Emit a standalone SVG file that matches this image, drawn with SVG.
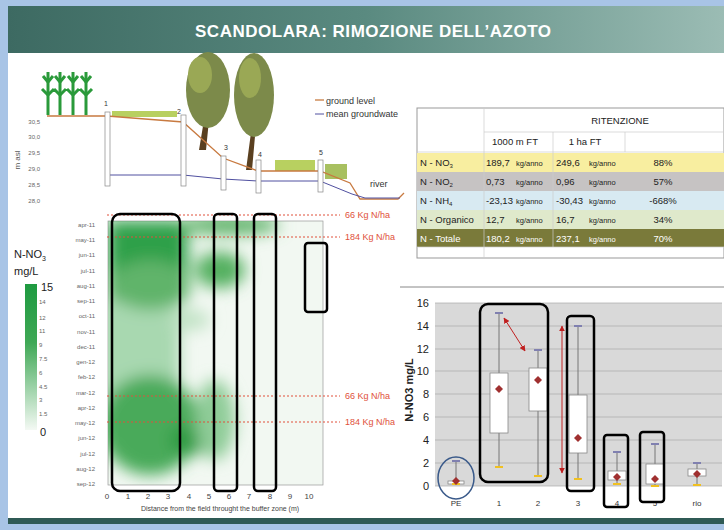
<svg xmlns="http://www.w3.org/2000/svg" width="724" height="530" viewBox="0 0 724 530">
<defs>
<style>
.s{font-family:"Liberation Sans",Arial,sans-serif}
.ax{font-family:"Liberation Sans",Arial,sans-serif;font-size:6px;fill:#666}
.rd{stroke:#e0503a;stroke-width:1;stroke-dasharray:2,2}
.rl{font-family:"Liberation Sans",Arial,sans-serif;font-size:9px;fill:#e0503a}
.bx{fill:none;stroke:#000;stroke-width:2.5}
.tb{font-family:"Liberation Sans Narrow","Liberation Sans",sans-serif;font-size:9.5px;fill:#222}
.tk{font-family:"Liberation Sans Narrow","Liberation Sans",sans-serif;font-size:7.5px;fill:#222}
.wh{stroke:#777;stroke-width:1}
.bb{fill:#fff;stroke:#888;stroke-width:0.8}
.mx{fill:#8080b0}
.mn{fill:#f0c020}
.mean{fill:#a03030}
</style>
<linearGradient id="hd" x1="0" x2="1"><stop offset="0" stop-color="#3d6a62"/><stop offset="0.5" stop-color="#5a8a80"/><stop offset="1" stop-color="#9bbcb4"/></linearGradient>
<linearGradient id="cb" x1="0" y1="0" x2="0" y2="1"><stop offset="0" stop-color="#1e9a40"/><stop offset="0.4" stop-color="#3fa855"/><stop offset="1" stop-color="#f4f9f4"/></linearGradient>
<filter id="bl" x="-50%" y="-50%" width="200%" height="200%"><feGaussianBlur stdDeviation="8"/></filter>
<clipPath id="hm"><rect x="108" y="221" width="215" height="264"/></clipPath>
<marker id="ar" viewBox="0 0 10 10" refX="9" refY="5" markerWidth="6" markerHeight="6" orient="auto-start-reverse"><path d="M0,0 L10,5 L0,10 z" fill="#c02020"/></marker>
</defs>
<rect width="724" height="530" fill="#a8c4e6"/>
<rect x="8" y="6" width="716" height="518" fill="#fff"/>
<g id="header"><rect x="8" y="6" width="716" height="47" fill="url(#hd)"/>
<text x="373" y="37" text-anchor="middle" class="s" font-size="17" font-weight="bold" fill="#fff" textLength="356">SCANDOLARA: RIMOZIONE DELL’AZOTO</text></g>
<rect x="8" y="518" width="716" height="6" fill="#2f5a55"/>

<g id="profile">
<g stroke="#2a9a3a" stroke-width="3" fill="none">
<path d="M48,115 V72 M60,115 V72 M73,115 V72 M86,115 V72"/>
<path d="M48,95 l-6,-6 M48,95 l6,-6 M60,95 l-6,-6 M60,95 l6,-6 M73,95 l-6,-6 M73,95 l6,-6 M86,95 l-6,-6 M86,95 l6,-6 M48,82 l-5,-6 M48,82 l5,-6 M60,82 l-5,-6 M60,82 l5,-6 M73,82 l-5,-6 M73,82 l5,-6 M86,82 l-5,-6 M86,82 l5,-6"/>
</g>
<path d="M204,120 L199,150 L206,150 L209,120 M252,125 L246,170 L252,170 L256,125" fill="#5a4020"/>
<g fill="#7c8a4a"><ellipse cx="208" cy="90" rx="22" ry="38"/><ellipse cx="254" cy="95" rx="20" ry="42"/></g>
<g fill="#9aa855"><ellipse cx="200" cy="75" rx="12" ry="18"/><ellipse cx="250" cy="78" rx="11" ry="20"/></g>
<rect x="112" y="111" width="65" height="6" fill="#b8d060"/>
<rect x="275" y="160" width="40" height="11" fill="#b8d060"/>
<rect x="325" y="164" width="22" height="15" fill="#a8c060"/>
<g class="ax" text-anchor="end"><text x="40" y="124">30,5</text><text x="40" y="139">30,0</text><text x="40" y="155">29,5</text><text x="40" y="171">29,0</text><text x="40" y="187">28,5</text><text x="40" y="203">28,0</text></g>
<text transform="translate(20,160) rotate(-90)" text-anchor="middle" class="s" font-size="8" fill="#555">m asl</text>
<path d="M47,116 L107,116 L183,122 L223,158 L258,171 L320,171 L350,183 L360,199 L398,199 L404,193" fill="none" stroke="#c87a40" stroke-width="1.3"/>
<path d="M107,175 L183,175 L223,179 L258,181 L320,181 L352,194 L365,198 L400,198" fill="none" stroke="#5050a0" stroke-width="1"/>
<g fill="#fff" stroke="#888" stroke-width="0.7"><rect x="105" y="112" width="5" height="74"/><rect x="181" y="115" width="5" height="71"/><rect x="221" y="156" width="5" height="34"/><rect x="256" y="160" width="5" height="33"/><rect x="318" y="160" width="5" height="32"/></g>
<g class="s" font-size="7" fill="#333"><text x="104" y="106">1</text><text x="177" y="114">2</text><text x="224" y="150">3</text><text x="258" y="157">4</text><text x="319" y="155">5</text><text x="370" y="187" font-size="9">river</text></g>
<path d="M315,100 h9" stroke="#c87a40" stroke-width="1.3"/><path d="M315,114 h9" stroke="#5050a0"/>
<text x="326" y="104" class="s" font-size="9" fill="#333">ground level</text>
<text x="326" y="117" class="s" font-size="9" fill="#333">mean groundwate</text>
</g>

<g id="heatmap">
<rect x="108" y="221" width="215" height="264" fill="#f2f8f2" stroke="#999" stroke-width="0.7"/>
<g clip-path="url(#hm)" filter="url(#bl)">
<rect x="108" y="221" width="80" height="80" fill="#2fa048"/>
<rect x="100" y="300" width="80" height="150" fill="#a8d8b0"/>
<ellipse cx="150" cy="425" rx="50" ry="50" fill="#4aaa5a"/>
<ellipse cx="190" cy="440" rx="20" ry="15" fill="#2a9a40"/>
<ellipse cx="220" cy="270" rx="25" ry="18" fill="#55b060"/>
<ellipse cx="150" cy="285" rx="40" ry="25" fill="#60b46a"/>
<ellipse cx="215" cy="420" rx="20" ry="40" fill="#8fcc98"/>
<ellipse cx="230" cy="225" rx="50" ry="10" fill="#60b46a"/>
<ellipse cx="190" cy="320" rx="20" ry="10" fill="#c0e2c4"/>
</g>
<g class="ax" text-anchor="end" font-size="6">
<text x="95" y="227">apr-11</text><text x="95" y="242">may-11</text><text x="95" y="257">jun-11</text><text x="95" y="273">jul-11</text><text x="95" y="288">aug-11</text><text x="95" y="303">sep-11</text><text x="95" y="318">oct-11</text><text x="95" y="334">nov-11</text><text x="95" y="349">dec-11</text><text x="95" y="364">gen-12</text><text x="95" y="379">feb-12</text><text x="95" y="395">mar-12</text><text x="95" y="410">apr-12</text><text x="95" y="425">may-12</text><text x="95" y="440">jun-12</text><text x="95" y="456">jul-12</text><text x="95" y="471">aug-12</text><text x="95" y="486">sep-12</text>
</g>
<g class="s" font-size="8" fill="#444" text-anchor="middle"><text x="107" y="499">0</text><text x="128" y="499">1</text><text x="148" y="499">2</text><text x="168" y="499">3</text><text x="189" y="499">4</text><text x="209" y="499">5</text><text x="229" y="499">6</text><text x="249" y="499">7</text><text x="270" y="499">8</text><text x="290" y="499">9</text><text x="309" y="499">10</text></g>
<text x="220" y="511" text-anchor="middle" class="s" font-size="7" fill="#444">Distance from the field throught the buffer zone (m)</text>
<line x1="107" y1="215" x2="340" y2="215" class="rd"/><line x1="107" y1="237" x2="340" y2="237" class="rd"/><line x1="107" y1="396" x2="340" y2="396" class="rd"/><line x1="107" y1="422" x2="340" y2="422" class="rd"/>
<text x="345" y="218" class="rl">66 Kg N/ha</text><text x="345" y="240" class="rl">184 Kg N/ha</text><text x="345" y="399" class="rl">66 Kg N/ha</text><text x="345" y="425" class="rl">184 Kg N/ha</text>
<rect x="112" y="214" width="68" height="277" rx="8" class="bx"/><rect x="214" y="214" width="23" height="277" rx="4" class="bx"/><rect x="254" y="214" width="22" height="277" rx="4" class="bx"/><rect x="305" y="243" width="22" height="69" rx="3" class="bx"/>
<text x="14" y="258" class="s" font-size="11" fill="#222">N-NO<tspan font-size="7" dy="3">3</tspan></text>
<text x="14" y="275" class="s" font-size="11" fill="#222">mg/L</text>
<rect x="25" y="284" width="12" height="146" fill="url(#cb)"/>
<text x="41" y="291" class="s" font-size="11" fill="#222">15</text>
<g class="ax" font-size="5"><text x="39" y="304">14</text><text x="39" y="320">12</text><text x="39" y="333">11</text><text x="39" y="347">9</text><text x="39" y="361">7.5</text><text x="39" y="375">6</text><text x="39" y="389">4.5</text><text x="39" y="402">3</text><text x="39" y="416">1.5</text></g>
<text x="40" y="436" class="s" font-size="11" fill="#222">0</text>
</g>

<g id="table">
<rect x="417" y="108" width="307" height="150" fill="#fff" stroke="#999"/>
<rect x="417" y="153" width="307" height="19" fill="#f8eea0"/>
<rect x="417" y="172" width="307" height="19" fill="#c6c3c3"/>
<rect x="417" y="191" width="307" height="19" fill="#d8eaf2"/>
<rect x="417" y="210" width="307" height="19" fill="#dfe9cb"/>
<rect x="417" y="229" width="307" height="18" fill="#7a7a3a"/>
<g stroke="#ccc" stroke-width="0.7"><line x1="484" y1="108" x2="484" y2="258"/><line x1="484" y1="132" x2="724" y2="132"/><line x1="553" y1="132" x2="553" y2="247"/><line x1="625" y1="132" x2="625" y2="152"/><line x1="417" y1="152" x2="724" y2="152"/><line x1="417" y1="247" x2="724" y2="247"/></g>
<text x="620" y="124" text-anchor="middle" class="tb">RITENZIONE</text>
<text x="515" y="145" text-anchor="middle" class="tb">1000 m FT</text><text x="585" y="145" text-anchor="middle" class="tb">1 ha FT</text>
<g class="tb"><text x="420" y="166">N - NO<tspan font-size="6" dy="2">3</tspan></text><text x="420" y="185">N - NO<tspan font-size="6" dy="2">2</tspan></text><text x="420" y="204">N - NH<tspan font-size="6" dy="2">4</tspan></text><text x="420" y="223">N - Organico</text><text x="420" y="242" fill="#fff">N - Totale</text></g>
<g class="tb"><text x="486" y="166">189,7</text><text x="486" y="185">0,73</text><text x="486" y="204">-23,13</text><text x="486" y="223">12,7</text><text x="486" y="242" fill="#fff">180,2</text>
<text x="556" y="166">249,6</text><text x="556" y="185">0,96</text><text x="556" y="204">-30,43</text><text x="556" y="223">16,7</text><text x="556" y="242" fill="#fff">237,1</text></g>
<g class="tk"><text x="516" y="166">kg/anno</text><text x="516" y="185">kg/anno</text><text x="516" y="204">kg/anno</text><text x="516" y="223">kg/anno</text><text x="516" y="242" fill="#fff">kg/anno</text>
<text x="589" y="166">kg/anno</text><text x="589" y="185">kg/anno</text><text x="589" y="204">kg/anno</text><text x="589" y="223">kg/anno</text><text x="589" y="242" fill="#fff">kg/anno</text></g>
<g class="tb" text-anchor="middle"><text x="663" y="166">88%</text><text x="663" y="185">57%</text><text x="663" y="204">-668%</text><text x="663" y="223">34%</text><text x="663" y="242" fill="#fff">70%</text></g>
</g>

<g id="boxchart">
<rect x="395" y="288" width="329" height="228" fill="#fff"/>
<line x1="400" y1="287" x2="724" y2="287" stroke="#888"/>
<rect x="435" y="303" width="287" height="183" fill="#d9d9d9"/>
<g stroke="#aaa" stroke-width="0.7"><line x1="435" y1="303" x2="722" y2="303"/><line x1="435" y1="326" x2="722" y2="326"/><line x1="435" y1="349" x2="722" y2="349"/><line x1="435" y1="371" x2="722" y2="371"/><line x1="435" y1="394" x2="722" y2="394"/><line x1="435" y1="417" x2="722" y2="417"/><line x1="435" y1="440" x2="722" y2="440"/><line x1="435" y1="463" x2="722" y2="463"/><line x1="435" y1="486" x2="722" y2="486"/></g>
<g class="s" font-size="11" fill="#222" text-anchor="end"><text x="429" y="307">16</text><text x="429" y="330">14</text><text x="429" y="353">12</text><text x="429" y="375">10</text><text x="429" y="398">8</text><text x="429" y="421">6</text><text x="429" y="444">4</text><text x="429" y="467">2</text><text x="429" y="490">0</text></g>
<text transform="translate(413,390) rotate(-90)" text-anchor="middle" class="s" font-size="11" font-weight="bold" fill="#222">N-NO3 mg/L</text>
<g class="s" font-size="8" fill="#333" text-anchor="middle"><text x="456" y="506">PE</text><text x="499" y="506">1</text><text x="538" y="506">2</text><text x="578" y="506">3</text><text x="617" y="506">4</text><text x="655" y="506">5</text><text x="697" y="506">rio</text></g>
<g class="wh"><line x1="456" y1="461" x2="456" y2="484"/><line x1="499" y1="313" x2="499" y2="467"/><line x1="538" y1="350" x2="538" y2="476"/><line x1="578" y1="326" x2="578" y2="479"/><line x1="617" y1="452" x2="617" y2="484"/><line x1="655" y1="444" x2="655" y2="486"/><line x1="697" y1="463" x2="697" y2="485"/></g>
<g class="bb"><rect x="448" y="481" width="16" height="3"/><rect x="490" y="373" width="18" height="60"/><rect x="529" y="368" width="18" height="43"/><rect x="569" y="395" width="18" height="58"/><rect x="608" y="471" width="18" height="9"/><rect x="646" y="464" width="18" height="20"/><rect x="688" y="469" width="18" height="7"/></g>
<g class="mx"><rect x="452" y="460" width="8" height="2"/><rect x="495" y="312" width="8" height="2"/><rect x="534" y="349" width="8" height="2"/><rect x="574" y="325" width="8" height="2"/><rect x="613" y="451" width="8" height="2"/><rect x="651" y="443" width="8" height="2"/><rect x="693" y="462" width="8" height="2"/></g>
<g class="mn"><rect x="452" y="483" width="8" height="2"/><rect x="495" y="466" width="8" height="2"/><rect x="534" y="475" width="8" height="2"/><rect x="574" y="478" width="8" height="2"/><rect x="613" y="483" width="8" height="2"/><rect x="651" y="485" width="8" height="2"/><rect x="693" y="484" width="8" height="2"/></g>
<g class="mean"><path d="M456,477 l4,4 l-4,4 l-4,-4z"/><path d="M499,385 l4,4 l-4,4 l-4,-4z"/><path d="M538,376 l4,4 l-4,4 l-4,-4z"/><path d="M578,434 l4,4 l-4,4 l-4,-4z"/><path d="M617,473 l4,4 l-4,4 l-4,-4z"/><path d="M655,475 l4,4 l-4,4 l-4,-4z"/><path d="M697,470 l4,4 l-4,4 l-4,-4z"/></g>
<ellipse cx="456" cy="478" rx="18" ry="21" fill="none" stroke="#3a5a8a" stroke-width="1.5"/>
<rect x="480" y="304" width="68" height="178" rx="8" class="bx"/><rect x="567" y="316" width="27" height="175" rx="4" class="bx"/><rect x="604" y="435" width="24" height="72" rx="3" class="bx"/><rect x="640" y="432" width="24" height="70" rx="3" class="bx"/>
<line x1="504" y1="318" x2="525" y2="351" stroke="#c02020" stroke-width="1" marker-start="url(#ar)" marker-end="url(#ar)"/>
<line x1="562" y1="326" x2="562" y2="473" stroke="#c02020" stroke-width="1" marker-start="url(#ar)" marker-end="url(#ar)"/>
</g>
</svg>
